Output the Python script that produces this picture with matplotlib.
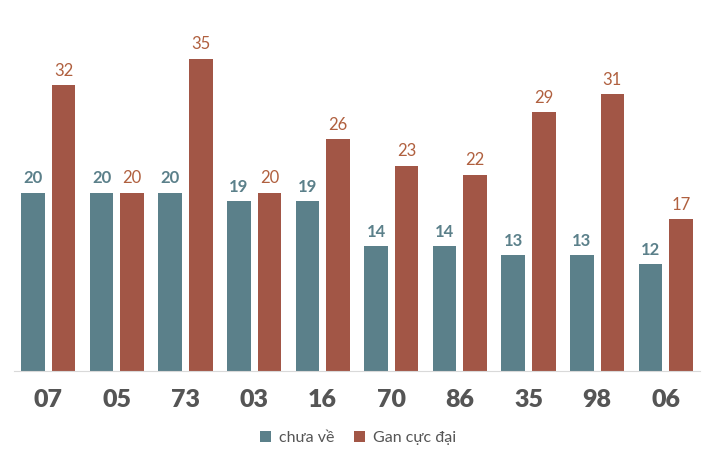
import numpy as np
import matplotlib.pyplot as plt

plt.rcParams['font.family'] = ['Lato', 'DejaVu Sans']

categories = ["07", "05", "73", "03", "16", "70", "86", "35", "98", "06"]
chua_ve = [20, 20, 20, 19, 19, 14, 14, 13, 13, 12]
gan_cuc_dai = [32, 20, 35, 20, 26, 23, 22, 29, 31, 17]

teal = "#5b808a"
red = "#a25646"

fig = plt.figure(figsize=(7.16, 4.62), dpi=100)
ax = fig.add_axes([14 / 716, 91 / 462, 686 / 716, 357 / 462])

x = np.arange(len(categories))
w = 0.345
off = 0.223
b1 = ax.bar(x - off, chua_ve, w, color=teal, label="chưa về")
b2 = ax.bar(x + off, gan_cuc_dai, w, color=red, label="Gan cực đại")

for rect, v in zip(b1, chua_ve):
    ax.text(rect.get_x() + rect.get_width() / 2, v + 0.7, str(v), ha='center', va='bottom',
            color=teal, fontsize=12, fontweight='bold')
for rect, v in zip(b2, gan_cuc_dai):
    ax.text(rect.get_x() + rect.get_width() / 2, v + 0.7, str(v), ha='center', va='bottom',
            color="#b0603f", fontsize=12)

ax.set_xlim(-0.5, len(categories) - 0.5)
ax.set_ylim(0, 40)
ax.set_xticks(x)
ax.set_xticklabels(categories, fontsize=18, fontweight='heavy', color="#555555")
ax.tick_params(axis='x', length=0, pad=13)
ax.set_yticks([])
for s in ['top', 'right', 'left']:
    ax.spines[s].set_visible(False)
ax.spines['bottom'].set_color("#d9d9d9")

fig.legend(loc='center', bbox_to_anchor=(0.5, 1 - 438 / 462), ncol=2, frameon=False,
           fontsize=11.5, handlelength=0.7, handleheight=0.7, columnspacing=1.2,
           handletextpad=0.5, labelcolor="#555555")

fig.savefig("out.png", dpi=100)
